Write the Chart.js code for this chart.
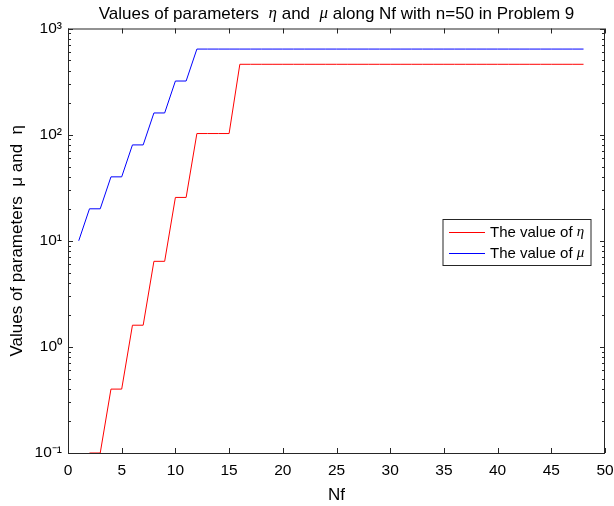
<!DOCTYPE html>
<html>
<head>
<meta charset="utf-8">
<script src="https://cdn.jsdelivr.net/npm/chart.js@4.4.0/dist/chart.umd.min.js"></script>
<style>
html, body { margin: 0; padding: 0; background: #fff; }
#wrap { width: 614px; height: 506px; }
</style>
</head>
<body>
<div id="wrap"><canvas id="chart"></canvas></div>
<script>
// values
var muNf = [1, 2, 3, 4, 5, 6, 7, 8, 9, 10, 11, 12, 13, 14, 15, 16, 17, 18, 19, 20, 21, 22, 23, 24,
    25, 26, 27, 28, 29, 30, 31, 32, 33, 34, 35, 36, 37, 38, 39, 40, 41, 42, 43, 44, 45, 46, 47, 48];
var muValues = [10, 20, 20, 40, 40, 80, 80, 160, 160, 320, 320, 640, 640, 640, 640, 640, 640, 640, 640, 640, 640, 640, 640, 640,
    640, 640, 640, 640, 640, 640, 640, 640, 640, 640, 640, 640, 640, 640, 640, 640, 640, 640, 640, 640, 640, 640, 640, 640];

var etaNf = [2, 3, 4, 5, 6, 7, 8, 9, 10, 11, 12, 13, 14, 15, 16, 17, 18, 19, 20, 21, 22, 23, 24,
    25, 26, 27, 28, 29, 30, 31, 32, 33, 34, 35, 36, 37, 38, 39, 40, 41, 42, 43, 44, 45, 46, 47, 48];
var etaValues = [0.1, 0.1, 0.4, 0.4, 1.6, 1.6, 6.4, 6.4, 25.6, 25.6, 102.4, 102.4, 102.4, 102.4, 460, 460, 460, 460, 460, 460, 460, 460, 460,
    460, 460, 460, 460, 460, 460, 460, 460, 460, 460, 460, 460, 460, 460, 460, 460, 460, 460, 460, 460, 460, 460, 460, 460];

var yTicks = [0.1, 1, 10, 100, 1000];
var yTickLabels = ['10\u207B\u00B9', '10\u2070', '10\u00B9', '10\u00B2', '10\u00B3'];

var AXIS = '#262626';
var FONT = "'Liberation Sans', Arial, Helvetica, sans-serif";
var GREEK = "'Liberation Serif', 'DejaVu Serif', serif";

function pts(xs, ys) {
    return xs.map(function(x, i) { return { x: x, y: ys[i] }; });
}

// draws a row of text pieces, some of them italic greek
function drawPieces(ctx, pieces, x, y, align, size) {
    var total = 0;
    pieces.forEach(function(p) {
        ctx.font = p[1] ? 'italic ' + size + 'px ' + GREEK : size + 'px ' + FONT;
        p.w = ctx.measureText(p[0]).width;
        total += p.w;
    });
    var cx = align === 'center' ? x - total / 2 : x;
    ctx.textAlign = 'left';
    ctx.textBaseline = 'middle';
    pieces.forEach(function(p) {
        ctx.font = p[1] ? 'italic ' + size + 'px ' + GREEK : size + 'px ' + FONT;
        ctx.fillText(p[0], cx, y);
        cx += p.w;
    });
}

var framePlugin = {
    id: 'frame',
    afterDatasetsDraw: function(chart) {
        var ctx = chart.ctx, a = chart.chartArea;
        var xs = chart.scales.x, ys = chart.scales.y;
        ctx.save();
        ctx.strokeStyle = AXIS;
        ctx.lineWidth = 1;
        ctx.beginPath();
        // x ticks, bottom and top, pointing in
        for (var v = xs.min; v <= xs.max; v += 5) {
            var px = Math.round(xs.getPixelForValue(v)) + 0.5;
            ctx.moveTo(px, a.bottom); ctx.lineTo(px, a.bottom - 5);
            ctx.moveTo(px, a.top); ctx.lineTo(px, a.top + 5);
        }
        // y ticks on log scale, left and right
        for (var d = 0.1; d <= 1000; d *= 10) {
            for (var k = 1; k <= 9; k++) {
                var val = d * k;
                if (val > 1000.0001) break;
                var py = Math.round(ys.getPixelForValue(val)) + 0.5;
                var len = k === 1 ? 5 : 3;
                ctx.moveTo(a.left, py); ctx.lineTo(a.left + len, py);
                ctx.moveTo(a.right, py); ctx.lineTo(a.right - len, py);
            }
        }
        ctx.stroke();
        ctx.strokeRect(a.left + 0.5, a.top + 0.5, a.right - a.left - 1, a.bottom - a.top);

        // legend box
        var lx = a.right - 162, ly = 219.5, lw = 148, lh = 46;
        ctx.fillStyle = '#fff';
        ctx.fillRect(lx, ly, lw, lh);
        ctx.strokeRect(lx, ly, lw, lh);
        var rows = [
            [chart.data.datasets[0], [['The value of ', false], ['\u03B7', true]]],
            [chart.data.datasets[1], [['The value of ', false], ['\u03BC', true]]]
        ];
        rows.forEach(function(r, i) {
            var yy = ly + 13 + i * 21;
            ctx.strokeStyle = r[0].borderColor;
            ctx.beginPath();
            ctx.moveTo(lx + 6, yy); ctx.lineTo(lx + 42, yy);
            ctx.stroke();
            ctx.fillStyle = '#000';
            drawPieces(ctx, r[1], lx + 47, yy, 'left', 15);
        });

        // title over the axes
        ctx.fillStyle = '#000';
        drawPieces(ctx, [['Values of parameters  ', false], ['\u03B7', true], [' and  ', false], ['\u03BC', true],
            [' along Nf with n=50 in Problem 9', false]], (a.left + a.right) / 2, 14, 'center', 17);
        ctx.restore();
    }
};

new Chart(document.getElementById('chart'), {
    type: 'line',
    data: {
        datasets: [{
            label: 'The value of \u03B7',
            data: pts(etaNf, etaValues),
            borderColor: '#ff0000',
            borderWidth: 1,
            pointRadius: 0,
            tension: 0
        }, {
            label: 'The value of \u03BC',
            data: pts(muNf, muValues),
            borderColor: '#0000ff',
            borderWidth: 1,
            pointRadius: 0,
            tension: 0
        }]
    },
    options: {
        responsive: true,
        maintainAspectRatio: false,
        animation: false,
        layout: { padding: { top: 28.5, right: 9, bottom: 0, left: 0 } },
        plugins: {
            legend: { display: false },
            title: { display: false },
            tooltip: { enabled: false }
        },
        scales: {
            x: {
                type: 'linear',
                min: 0,
                max: 50,
                grid: { display: false, drawTicks: false },
                border: { display: false },
                ticks: { stepSize: 5, padding: 8, color: '#000', font: { family: FONT, size: 15.5 }, maxRotation: 0 },
                title: { display: true, text: 'Nf', color: '#000', font: { family: FONT, size: 17 }, padding: { top: 0, bottom: 0 } },
                afterFit: function(scale) {
                    scale.height = 53;
                    scale.paddingLeft = 0;
                    scale.paddingRight = 0;
                }
            },
            y: {
                type: 'logarithmic',
                min: 0.1,
                max: 1000,
                grid: { display: false, drawTicks: false },
                border: { display: false },
                afterBuildTicks: function(scale) {
                    scale.ticks = yTicks.map(function(v) { return { value: v, major: true }; });
                },
                ticks: {
                    padding: 6,
                    color: '#000',
                    font: { family: FONT, size: 15.5 },
                    callback: function(value) {
                        var i = yTicks.indexOf(value);
                        return i >= 0 ? yTickLabels[i] : '';
                    }
                },
                title: { display: true, text: 'Values of parameters  \u03BC and  \u03B7', color: '#000', font: { family: FONT, size: 17 }, padding: { top: 7, bottom: 0 } },
                afterFit: function(scale) {
                    scale.width = 68;
                    scale.paddingTop = 0;
                    scale.paddingBottom = 0;
                }
            }
        }
    },
    plugins: [framePlugin]
});
</script>
</body>
</html>
